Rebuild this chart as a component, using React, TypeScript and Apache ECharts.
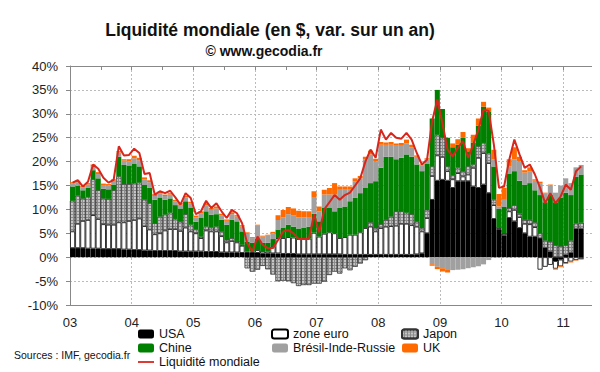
import React, { useEffect, useRef } from 'react';
import * as echarts from 'echarts';

// Monthly data, Jan 2003 .. Apr 2011 (100 months), contributions in % points
const USA = [
  1.9,1.9,1.9,1.8,1.8,1.8,1.7,1.7,1.7,1.7,1.6,1.6,
  1.5,1.5,1.4,1.4,1.3,1.3,1.3,1.3,1.3,1.2,1.2,1.2,
  1.2,1.2,1.1,1.1,1.1,1.0,1.0,1.0,1.0,0.9,0.9,0.9,
  0.9,0.8,0.8,0.8,0.8,0.7,0.7,0.7,0.6,0.6,0.6,0.6,
  0.6,0.6,0.6,0.6,0.6,0.5,0.5,0.5,0.5,0.5,0.5,0.5,
  0.5,0.5,0.5,0.5,0.5,0.5,0.5,0.6,0.8,5.0,12.0,16.0,
  16.2,16.0,14.5,15.9,15.9,15.9,14.8,14.5,15.2,13.4,8.0,5.7,
  4.5,8.2,7.5,6.1,5.0,4.3,4.3,4.0,2.0,1.2,-0.8,-0.5,
  0.5,1.0,6.0,6.0,
];
const EURO = [
  3.5,5.1,5.7,6.0,7.0,6.2,5.2,5.1,5.1,5.6,5.7,6.0,
  6.3,6.6,5.1,4.4,3.5,3.7,4.3,4.6,4.6,4.3,5.0,4.2,
  3.8,2.8,4.5,4.3,4.3,3.4,2.1,2.4,2.1,1.5,0.3,0.3,
  0.6,0.5,0.4,1.5,3.2,3.3,3.5,3.4,3.2,3.2,3.3,4.5,
  3.7,4.3,4.6,4.4,3.4,3.7,4.2,4.2,4.7,5.6,5.9,4.9,
  5.6,5.9,6.0,6.1,6.5,6.5,6.2,5.8,4.6,3.2,5.0,5.3,
  4.8,2.0,1.8,1.7,1.0,1.4,3.9,6.3,6.6,6.3,2.9,0.4,
  0.4,1.4,2.4,2.3,2.0,2.6,2.0,-2.6,-2.0,-1.6,-1.6,-1.4,
  -1.2,-0.9,-0.6,-0.4,
];
const JAPON = [
  6.4,5.9,4.7,4.8,7.5,6.0,5.4,5.4,7.2,9.6,8.0,7.7,
  7.7,7.5,5.5,5.5,2.3,3.5,3.3,3.4,2.1,1.9,2.8,1.4,
  0.8,0.3,0.8,0.8,1.0,1.0,0.5,0.6,0.3,0.2,-2.3,-3.0,
  -2.6,-1.8,-2.5,-3.6,-5.0,-4.9,-5.0,-5.4,-6.0,-5.8,-5.8,-5.5,
  -5.5,-5.1,-3.7,-3.0,-3.4,-2.3,-2.7,-2.0,-1.3,-0.6,0.9,0.7,
  0.8,1.4,2.0,3.0,2.6,2.3,2.3,1.0,0.7,1.7,2.0,4.3,
  4.0,1.0,0.8,1.1,1.1,1.7,0.7,2.4,2.1,2.1,1.1,0.2,
  0.1,0.7,1.0,0.7,0.8,0.9,1.0,1.0,1.5,2.0,2.5,2.3,
  2.0,2.5,1.0,1.2,
];
const CHINE = [
  3.0,2.1,1.7,1.9,1.9,2.5,2.0,2.0,1.2,4.1,4.0,3.9,
  4.0,3.4,3.1,3.2,4.9,4.0,3.1,3.0,2.9,2.8,2.7,3.6,
  1.6,3.9,3.2,2.7,2.6,2.4,3.2,3.8,4.1,2.8,2.0,1.8,
  2.3,1.7,1.8,1.5,1.8,2.2,2.6,2.3,2.2,2.4,2.5,4.0,
  3.2,5.4,5.1,4.6,6.3,6.4,7.0,7.7,8.2,8.4,8.2,9.8,
  11.8,13.2,12.5,10.9,11.2,12.2,12.0,12.0,11.9,9.6,10.0,9.4,
  6.0,6.0,5.9,4.8,7.0,3.0,4.6,4.3,7.6,8.7,7.0,3.8,
  5.5,7.2,7.1,6.9,7.4,7.7,6.7,8.0,8.0,9.8,9.0,10.2,
  11.0,9.5,9.8,10.1,
];
const BIR = [
  0.6,0.7,0.6,0.7,0.8,0.9,0.8,0.8,0.8,0.9,0.9,0.9,
  1.2,1.3,1.2,1.2,0.8,0.8,0.8,0.8,0.8,0.8,0.8,0.9,
  0.9,1.0,1.2,1.0,1.2,1.0,0.8,1.2,1.0,1.0,1.7,1.0,
  2.8,1.3,1.5,1.2,2.0,2.1,2.2,2.3,2.3,2.1,2.0,3.5,
  2.1,2.8,2.8,3.5,3.8,3.5,2.4,3.5,3.1,6.0,6.0,4.1,
  4.8,2.5,2.5,2.8,2.5,2.3,2.0,1.6,1.2,1.0,-1.5,-2.0,
  -2.3,-2.5,-2.7,-2.6,-2.5,-2.3,-2.1,-1.9,-1.5,-0.6,1.5,0.5,
  1.5,1.5,2.5,4.0,2.5,2.5,2.0,2.5,1.8,2.0,2.0,2.5,
  3.0,2.5,2.0,2.0,
];
const UK = [
  0.3,0.3,0.3,0.3,0.4,0.4,0.3,0.3,0.3,0.3,0.3,0.4,
  0.5,0.5,0.4,0.4,0.4,0.4,0.3,0.3,0.3,0.3,0.3,0.3,
  0.4,0.4,0.5,0.4,0.4,0.3,0.3,0.4,0.3,0.3,0.3,0.2,
  0.2,0.2,0.2,0.3,1.0,1.6,1.5,1.5,1.4,1.3,1.2,1.2,
  1.0,1.0,1.4,2.4,0.7,0.7,0.7,0.6,0.5,0.5,0.8,0.6,
  0.6,0.5,0.6,0.5,0.6,0.8,0.5,0.3,0.2,0.2,-0.3,-0.5,
  -0.7,-0.7,0.8,1.2,1.2,0.8,1.6,1.5,1.0,0.8,2.0,2.6,
  2.5,1.5,2.5,1.0,0.5,0.8,0.3,0.3,0.2,0.2,-0.2,-0.2,
  -0.2,-0.2,-0.1,-0.1,
];
const LIQUIDITE = [
  15.6,16.1,14.8,15.8,19.4,18.5,16.6,15.6,16.2,23.2,21.3,21.4,
  22.7,21.8,17.4,17.6,13.1,13.8,13.4,13.9,12.5,11.0,13.4,12.4,
  9.0,9.6,11.8,10.3,11.3,9.6,8.2,9.9,9.2,7.1,2.9,1.2,
  4.3,2.6,1.9,1.9,3.6,5.4,5.7,5.0,3.8,3.8,3.8,9.0,
  5.2,10.0,11.5,13.0,12.0,13.0,13.5,15.0,16.5,20.0,22.5,20.8,
  26.7,24.6,26.0,25.0,24.8,26.0,24.6,21.8,19.4,20.4,28.5,33.0,
  28.0,22.5,21.1,22.9,24.3,20.8,23.6,26.7,30.9,30.6,23.6,14.5,
  14.8,20.4,24.6,21.5,18.7,19.4,17.3,14.5,11.3,13.4,11.3,12.7,
  15.2,14.1,18.0,19.0,
];
const YEAR_LABELS = ['03', '04', '05', '06', '07', '08', '09', '10', '11'];
const MONTHS_ON_AXIS = 102; // Jan 2003 .. Jun 2011
const MONTH_CATEGORIES: string[] = [];
for (let m = 0; m < MONTHS_ON_AXIS; m++) {
  MONTH_CATEGORIES.push(`${2003 + Math.floor(m / 12)}-${String((m % 12) + 1).padStart(2, '0')}`);
}

const FONT = '"Liberation Sans", Arial, Helvetica, sans-serif';
const LINE_ICON = 'path://M0,0L0,0M16,9L16,9M0,3.6L16,3.6L16,5.4L0,5.4Z';

export default function App() {
  const ref = useRef<HTMLDivElement>(null);
  useEffect(() => {
    if (!ref.current) return;
    const chart = echarts.init(ref.current, undefined, { renderer: 'svg' });
    const barBase = { type: 'bar', stack: 'all', barCategoryGap: '2%', xAxisIndex: 0 };
    const legendBase = {
      orient: 'vertical',
      top: 319,
      itemWidth: 16,
      itemHeight: 9,
      itemGap: 0,
      padding: 0,
      selectedMode: false,
      textStyle: { fontSize: 12.5, color: '#111', fontFamily: FONT, lineHeight: 14 },
    };
    chart.setOption({
      animation: false,
      textStyle: { fontFamily: FONT },
      grid: { left: 62, right: 14, top: 58, bottom: 75 },
      xAxis: [
        {
          type: 'category', data: MONTH_CATEGORIES, boundaryGap: true,
          axisLine: { show: false }, axisTick: { show: false }, axisLabel: { show: false },
          splitLine: { show: false },
        },
        {
          type: 'value', min: 0, max: MONTHS_ON_AXIS, interval: 12, position: 'bottom',
          axisLine: { onZero: false, lineStyle: { color: '#888' } },
          axisTick: { show: false },
          axisLabel: {
            color: '#222', fontSize: 13, margin: 11,
            formatter: (v: number) => (v % 12 === 0 && YEAR_LABELS[v / 12] ? YEAR_LABELS[v / 12] : ''),
          },
          splitLine: { show: true, lineStyle: { color: '#bbb', type: [2, 2] } },
        },
        {
          type: 'value', min: 0, max: MONTHS_ON_AXIS, interval: 6, position: 'top',
          axisLine: { onZero: true, lineStyle: { color: '#888' } },
          axisTick: { show: true, inside: true, length: 4, lineStyle: { color: '#888' } },
          axisLabel: { show: false },
          splitLine: { show: false },
        },
      ],
      yAxis: {
        type: 'value', min: -10, max: 40, interval: 5,
        axisLine: { show: true, onZero: false, lineStyle: { color: '#888' } },
        axisTick: { show: true, length: 4, lineStyle: { color: '#888' } },
        axisLabel: { formatter: '{value}%', color: '#222', fontSize: 13, margin: 12 },
        splitLine: { show: true, lineStyle: { color: '#bbb', type: [2, 2] } },
      },
      legend: [
        { ...legendBase, left: 130, data: ['USA', 'Chine', { name: 'Liquidité mondiale', icon: LINE_ICON }] },
        { ...legendBase, left: 263, data: ['zone euro', 'Brésil-Inde-Russie'] },
        { ...legendBase, left: 393, data: ['Japon', 'UK'] },
      ],
      series: [
        { ...barBase, name: 'USA', data: USA, itemStyle: { color: '#000' } },
        { ...barBase, name: 'zone euro', data: EURO, itemStyle: { color: '#fff', borderColor: '#000', borderWidth: 0.8 } },
        {
          ...barBase, name: 'Japon', data: JAPON,
          itemStyle: {
            color: '#8c8c8c', borderColor: '#333', borderWidth: 0.5,
            decal: { symbol: 'diamond', symbolSize: 1, dashArrayX: [2, 1], dashArrayY: [2, 1], color: '#fff' },
          },
        },
        { ...barBase, name: 'Chine', data: CHINE, itemStyle: { color: '#008000' } },
        { ...barBase, name: 'Brésil-Inde-Russie', data: BIR, itemStyle: { color: '#a0a0a0' } },
        { ...barBase, name: 'UK', data: UK, itemStyle: { color: '#ff6a00' } },
        {
          type: 'line', name: 'Liquidité mondiale', data: LIQUIDITE, xAxisIndex: 0,
          symbol: 'none', z: 10,
          lineStyle: { color: '#d9261c', width: 2 }, itemStyle: { color: '#d9261c' },
        },
      ],
      graphic: [
        {
          type: 'text', x: 262, y: 22,
          style: { text: 'Liquidité mondiale (en $, var. sur un an)', font: `bold 17.5px ${FONT}`, fill: '#111', textAlign: 'center', textVerticalAlign: 'middle' },
        },
        {
          type: 'text', x: 256, y: 43,
          style: { text: '© www.gecodia.fr', font: `bold 14px ${FONT}`, fill: '#111', textAlign: 'center', textVerticalAlign: 'middle' },
        },
        {
          type: 'text', x: 6, y: 347,
          style: { text: 'Sources : IMF, gecodia.fr', font: `10.5px ${FONT}`, fill: '#111', textAlign: 'left', textVerticalAlign: 'middle' },
        },
      ],
    });
    return () => chart.dispose();
  }, []);
  return <div ref={ref} style={{ width: 600, height: 372 }} />;
}
